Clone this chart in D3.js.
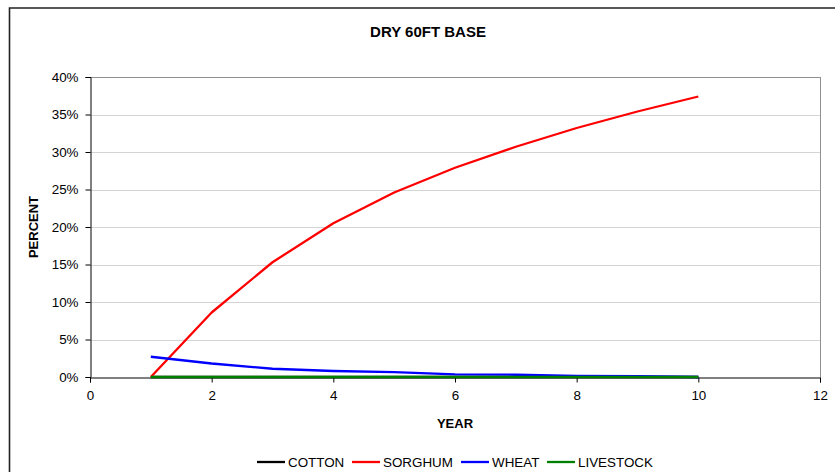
<!DOCTYPE html>
<html>
<head>
<meta charset="utf-8">
<script src="https://cdn.jsdelivr.net/npm/d3@7"></script>
<style>
  html, body { margin: 0; padding: 0; background: #fff; }
  svg { display: block; font-family: Arial, "Liberation Sans", sans-serif; }
</style>
</head>
<body>
<svg id="chart" width="835" height="472"></svg>
<script>
// Crop share by year, dryland 60 ft base scenario
const years = [1, 2, 3, 4, 5, 6, 7, 8, 9, 10];
const cotton = [0, 0, 0, 0, 0, 0, 0, 0, 0, 0];
const sorghum = [0.000, 0.086, 0.153, 0.205, 0.246, 0.279, 0.307, 0.332, 0.354, 0.374];
const wheat = [0.027, 0.018, 0.011, 0.008, 0.0065, 0.0035, 0.003, 0.0015, 0.001, 0.000];
const livestock = [0, 0, 0, 0, 0, 0, 0, 0, 0, 0];
const seriesNames = ["COTTON", "SORGHUM", "WHEAT", "LIVESTOCK"];
const seriesColors = ["#000000", "#ff0000", "#0000ff", "#008000"];
const xTicks = [0, 2, 4, 6, 8, 10, 12];
const yTicks = [0, 0.05, 0.10, 0.15, 0.20, 0.25, 0.30, 0.35, 0.40];

const seriesValues = [cotton, sorghum, wheat, livestock];

const svg = d3.select("#chart");
const plot = { left: 90, right: 820, top: 77, bottom: 377 };

const x = d3.scaleLinear().domain([0, 12]).range([plot.left, plot.right]);
const y = d3.scaleLinear().domain([0, 0.40]).range([plot.bottom, plot.top]);

// outer chart frame
svg.append("path")
  .attr("d", `M9.5,480 L9.5,8 L840,8`)
  .attr("fill", "none")
  .attr("stroke", "#222")
  .attr("stroke-width", 1.6);

// gridlines
svg.append("g")
  .selectAll("line")
  .data(yTicks.filter(d => d > 0))
  .join("line")
  .attr("x1", plot.left).attr("x2", plot.right)
  .attr("y1", d => Math.round(y(d)) + 0.5).attr("y2", d => Math.round(y(d)) + 0.5)
  .attr("stroke", d => d === 0.40 ? "#909090" : "#d4d4d4")
  .attr("stroke-width", 1);

// right border of plot area
svg.append("line")
  .attr("x1", plot.right + 0.5).attr("x2", plot.right + 0.5)
  .attr("y1", plot.top).attr("y2", plot.bottom)
  .attr("stroke", "#909090");

// y axis
const yAxis = d3.axisLeft(y)
  .tickValues(yTicks)
  .tickFormat(d3.format(".0%"))
  .tickSize(5)
  .tickPadding(7);
const gy = svg.append("g")
  .attr("transform", `translate(${plot.left + 0.5},0)`)
  .call(yAxis);
gy.select(".domain").attr("stroke", "#000");
gy.selectAll(".tick line").attr("stroke", "#000");
gy.selectAll(".tick text")
  .attr("font-size", 13.4)
  .attr("font-family", "Arial, 'Liberation Sans', sans-serif")
  .attr("fill", "#000");

// x axis
const xAxis = d3.axisBottom(x)
  .tickValues(xTicks)
  .tickFormat(d3.format("d"))
  .tickSize(5)
  .tickPadding(8);
const gx = svg.append("g")
  .attr("transform", `translate(0,${plot.bottom + 0.5})`)
  .call(xAxis);
gx.select(".domain").attr("stroke", "#000");
gx.selectAll(".tick line").attr("stroke", "#000");
gx.selectAll(".tick text")
  .attr("font-size", 13.4)
  .attr("font-family", "Arial, 'Liberation Sans', sans-serif")
  .attr("fill", "#000");

// series lines
const line = d3.line()
  .x((d, i) => x(years[i]))
  .y(d => y(d));

svg.append("g")
  .selectAll("path")
  .data(seriesValues)
  .join("path")
  .attr("d", d => line(d))
  .attr("fill", "none")
  .attr("stroke", (d, i) => seriesColors[i])
  .attr("stroke-width", 2.3)
  .attr("stroke-linejoin", "round");

// title
svg.append("text")
  .attr("x", 428).attr("y", 37)
  .attr("text-anchor", "middle")
  .attr("font-size", 15)
  .attr("font-weight", "bold")
  .text("DRY 60FT BASE");

// axis titles
svg.append("text")
  .attr("x", (plot.left + plot.right) / 2).attr("y", 428)
  .attr("text-anchor", "middle")
  .attr("font-size", 13)
  .attr("font-weight", "bold")
  .text("YEAR");

svg.append("text")
  .attr("transform", `translate(38,${(plot.top + plot.bottom) / 2}) rotate(-90)`)
  .attr("text-anchor", "middle")
  .attr("font-size", 13)
  .attr("font-weight", "bold")
  .text("PERCENT");

// legend
const legendX = [257, 352, 461, 547];
const legend = svg.append("g")
  .selectAll("g")
  .data(seriesNames)
  .join("g")
  .attr("transform", (d, i) => `translate(${legendX[i]},462)`);
legend.append("line")
  .attr("x1", 0).attr("x2", 28)
  .attr("stroke", (d, i) => seriesColors[i])
  .attr("stroke-width", 2.3);
legend.append("text")
  .attr("x", 31).attr("y", 5)
  .attr("font-size", 13.4)
  .text(d => d);
</script>
</body>
</html>
